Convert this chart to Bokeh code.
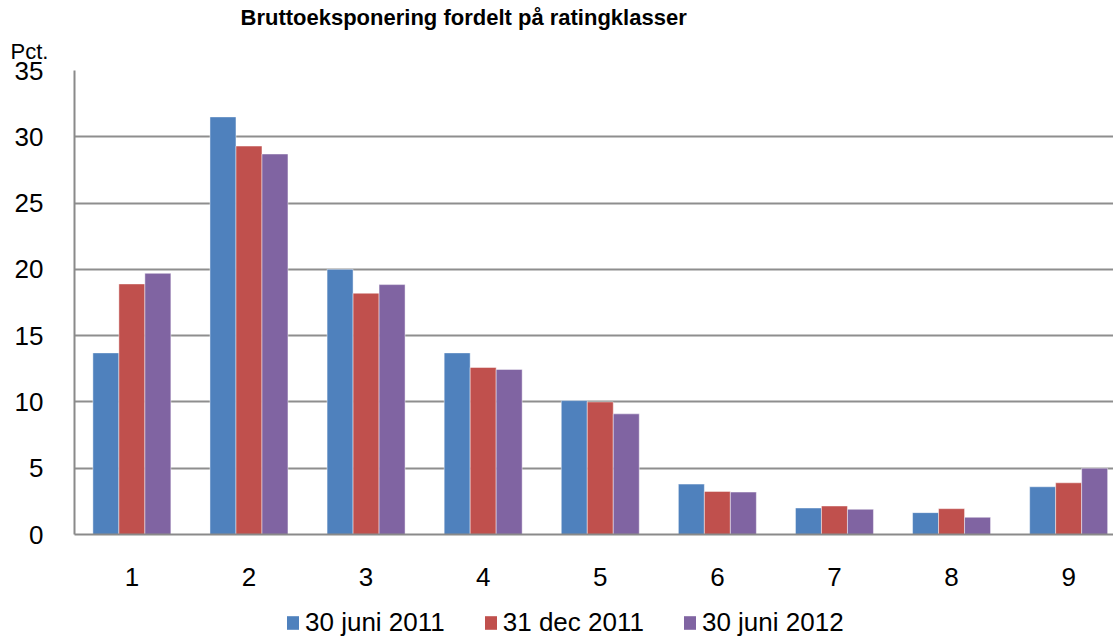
from bokeh.plotting import figure
from bokeh.models import ColumnDataSource, FixedTicker, Range1d, Title, Legend, LegendItem
from bokeh.layouts import column
from bokeh.embed import file_html
from bokeh.resources import INLINE

categories = ["1", "2", "3", "4", "5", "6", "7", "8", "9"]
series_names = ["30 juni 2011", "31 dec 2011", "30 juni 2012"]
jun2011 = [13.7, 31.5, 20.0, 13.7, 10.1, 3.8, 2.0, 1.65, 3.6]
dec2011 = [18.9, 29.3, 18.2, 12.6, 10.0, 3.25, 2.15, 1.95, 3.9]
jun2012 = [19.7, 28.7, 18.85, 12.45, 9.1, 3.2, 1.9, 1.3, 5.0]
colors = ["#4F81BD", "#C0504D", "#8064A2"]
y_ticks = [0, 5, 10, 15, 20, 25, 30, 35]

FONT = "Liberation Sans"
xs = list(range(1, len(categories) + 1))

p = figure(frame_width=1039, frame_height=464, output_backend="svg", toolbar_location=None,
           x_range=Range1d(0.51, 9.383), y_range=Range1d(0, 35),
           min_border_left=74, min_border_right=0, min_border_top=70, min_border_bottom=0)
p.outline_line_color = None
p.background_fill_color = "white"
p.border_fill_color = "white"

bw = 0.222
offsets = [-bw, 0, bw]
series = [jun2011, dec2011, jun2012]
for vals, col, off in zip(series, colors, offsets):
    src = ColumnDataSource(dict(x=[x + off for x in xs], top=vals))
    p.vbar(x="x", top="top", width=bw, bottom=0, source=src,
           fill_color=col, line_color="white", line_alpha=0.45, line_width=1)

# axes
p.xaxis.ticker = FixedTicker(ticks=xs)
p.xaxis.major_label_overrides = {x: c for x, c in zip(xs, categories)}
p.xaxis.major_tick_line_color = None
p.xaxis.minor_tick_line_color = None
p.xaxis.axis_line_color = "#8a8a8a"
p.xaxis.axis_line_width = 2
p.xaxis.major_label_text_font = FONT
p.xaxis.major_label_text_font_size = "26px"
p.xaxis.major_label_text_color = "black"
p.xaxis.major_label_standoff = 27

p.yaxis.ticker = FixedTicker(ticks=y_ticks)
p.yaxis.major_tick_line_color = None
p.yaxis.minor_tick_line_color = None
p.yaxis.axis_line_color = "#8a8a8a"
p.yaxis.axis_line_width = 2
p.yaxis.major_label_text_font = FONT
p.yaxis.major_label_text_font_size = "26px"
p.yaxis.major_label_text_color = "black"
p.yaxis.major_label_standoff = 25

p.xgrid.grid_line_color = None
p.ygrid.grid_line_color = "#8e8e8e"
p.ygrid.grid_line_width = 2

# main title (outermost) and unit label (closest to plot)
p.title.text = "Bruttoeksponering fordelt på ratingklasser"
p.title.align = "left"
p.title.offset = 166
p.title.text_font = FONT
p.title.text_font_size = "22px"
p.title.text_font_style = "bold"
p.title.text_color = "black"
p.title.standoff = 0

p.add_layout(Title(text="Pct.", align="left", offset=-64,
                   text_font=FONT, text_font_size="22px", text_font_style="normal",
                   text_color="black", standoff=14), "above")

# legend strip below the chart (proxy bars kept outside its visible ranges)
lg = figure(width=1113, height=52, output_backend="svg", toolbar_location=None,
            x_range=Range1d(-20, -19), y_range=Range1d(-20, -19),
            min_border_left=0, min_border_right=0, min_border_top=0, min_border_bottom=0)
lg.axis.visible = False
lg.grid.grid_line_color = None
lg.outline_line_color = None
lg.background_fill_color = "white"
lg.border_fill_color = "white"
proxies = []
for vals, col in zip(series, colors):
    r = lg.vbar(x=xs, top=vals, bottom=0, width=0.5, fill_color=col, line_color=None)
    proxies.append(r)

legend = Legend(items=[LegendItem(label=n, renderers=[r]) for n, r in zip(series_names, proxies)],
                orientation="horizontal", location=(211, 2),
                glyph_width=15, glyph_height=17, label_standoff=5, spacing=38,
                padding=0, margin=0, border_line_color=None, background_fill_alpha=0,
                label_text_font=FONT, label_text_font_size="26px", label_text_color="black")
lg.add_layout(legend, "center")

layout = column(p, lg, spacing=0)
open("out.html", "w").write(file_html(layout, INLINE))
